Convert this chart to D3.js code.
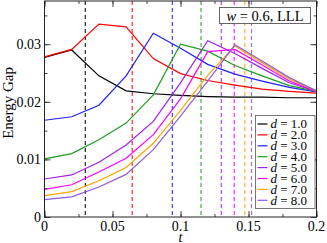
<!DOCTYPE html>
<html>
<head>
<meta charset="utf-8">
<script src="https://cdn.jsdelivr.net/npm/d3@7"></script>
<style>
  body { margin: 0; background: #fff; }
  svg text { font-family: "Liberation Serif", "DejaVu Serif", serif; }
</style>
</head>
<body>
<div id="container"></div>
<script>
// values
var tGrid = [0, 0.02, 0.04, 0.06, 0.08, 0.10, 0.12, 0.14, 0.16, 0.18, 0.20];
var dLabels = ["1.0", "2.0", "3.0", "4.0", "5.0", "6.0", "7.0", "8.0"];
var gapD1 = [0.0277, 0.0290, 0.0245, 0.0219, 0.0214, 0.0211, 0.0209, 0.0208, 0.0208, 0.0207, 0.0207];
var gapD2 = [0.0278, 0.0291, 0.0335, 0.0330, 0.0275, 0.0249, 0.0237, 0.0229, 0.0222, 0.0218, 0.0215];
var gapD3 = [0.0168, 0.0174, 0.0194, 0.0245, 0.0319, 0.0293, 0.0265, 0.0248, 0.0236, 0.0225, 0.0217];
var gapD4 = [0.0101, 0.0110, 0.0134, 0.0163, 0.0212, 0.0300, 0.0288, 0.0263, 0.0245, 0.0228, 0.0218];
var gapD5 = [0.0066, 0.0073, 0.0095, 0.0125, 0.0166, 0.0233, 0.0306, 0.0284, 0.0258, 0.0233, 0.0218];
var gapD6 = [0.0048, 0.0056, 0.0078, 0.0102, 0.0143, 0.0205, 0.0287, 0.0291, 0.0264, 0.0236, 0.0218];
var gapD7 = [0.0037, 0.0044, 0.0063, 0.0086, 0.0128, 0.0185, 0.0246, 0.0297, 0.0268, 0.0239, 0.0219];
var gapD8 = [0.0030, 0.0035, 0.0052, 0.0074, 0.0117, 0.0175, 0.0236, 0.0299, 0.0271, 0.0242, 0.0219];
// critical t for each d (dashed lines)
var tCrit = [0.0300, 0.0645, 0.0940, 0.1151, 0.1300, 0.1395, 0.1473, 0.1522];
var colors = ["#000000", "#ff0000", "#1f1fff", "#1e9e1e", "#a020f0", "#ff00ff", "#ffa500", "#8a5ce0"];

var series = [gapD1, gapD2, gapD3, gapD4, gapD5, gapD6, gapD7, gapD8];

var width = 327, height = 243;
var plotLeft = 44.5, plotRight = 316.5, plotTop = 1, plotBottom = 217;

var svg = d3.select("#container").append("svg")
  .attr("width", width)
  .attr("height", height);

var x = d3.scaleLinear().domain([0, 0.2]).range([plotLeft, plotRight]);
var y = d3.scaleLinear().domain([0, 0.0375]).range([plotBottom, plotTop]);

svg.append("clipPath").attr("id", "plotclip")
  .append("rect")
  .attr("x", plotLeft).attr("y", plotTop)
  .attr("width", plotRight - plotLeft).attr("height", plotBottom - plotTop);

var plot = svg.append("g").attr("clip-path", "url(#plotclip)");

// dashed vertical lines
plot.selectAll("line.crit")
  .data(tCrit)
  .enter()
  .append("line")
  .attr("class", "crit")
  .attr("x1", function(d) { return x(d); })
  .attr("x2", function(d) { return x(d); })
  .attr("y1", plotTop)
  .attr("y2", plotBottom)
  .attr("stroke", function(d, i) { return colors[i]; })
  .attr("stroke-width", 1.2)
  .attr("stroke-dasharray", "4,3")
  .attr("opacity", 0.85);

var line = d3.line()
  .x(function(d, i) { return x(tGrid[i]); })
  .y(function(d) { return y(d); });

plot.selectAll("path.gap")
  .data(series)
  .enter()
  .append("path")
  .attr("class", "gap")
  .attr("d", line)
  .attr("fill", "none")
  .attr("stroke", function(d, i) { return colors[i]; })
  .attr("stroke-width", 1.2);

// axes, ticks pointing inward on all four sides
var xMajor = [0, 0.05, 0.1, 0.15, 0.2];
var xMinor = d3.range(0, 0.2001, 0.025);
var yMajor = [0, 0.01, 0.02, 0.03];
var yMinor = d3.range(0, 0.0376, 0.005);

function xAxis(g, ticks, size, orient) {
  var ax = orient == "bottom" ? d3.axisBottom(x) : d3.axisTop(x);
  g.call(ax.tickValues(ticks).tickSizeInner(-size).tickSizeOuter(0).tickFormat(""));
}
function yAxis(g, ticks, size, orient) {
  var ax = orient == "left" ? d3.axisLeft(y) : d3.axisRight(y);
  g.call(ax.tickValues(ticks).tickSizeInner(-size).tickSizeOuter(0).tickFormat(""));
}

var axes = svg.append("g").attr("class", "axes");
axes.append("g").attr("transform", "translate(0," + plotBottom + ")").call(xAxis, xMinor, 3, "bottom");
axes.append("g").attr("transform", "translate(0," + plotBottom + ")").call(xAxis, xMajor, 6, "bottom");
axes.append("g").attr("transform", "translate(0," + plotTop + ")").call(xAxis, xMinor, 3, "top");
axes.append("g").attr("transform", "translate(0," + plotTop + ")").call(xAxis, xMajor, 6, "top");
axes.append("g").attr("transform", "translate(" + plotLeft + ",0)").call(yAxis, yMinor, 3, "left");
axes.append("g").attr("transform", "translate(" + plotLeft + ",0)").call(yAxis, yMajor, 6, "left");
axes.append("g").attr("transform", "translate(" + plotRight + ",0)").call(yAxis, yMinor, 3, "right");
axes.append("g").attr("transform", "translate(" + plotRight + ",0)").call(yAxis, yMajor, 6, "right");
axes.selectAll(".domain").remove();
axes.selectAll("line").attr("stroke", "#444").attr("stroke-width", 1);

svg.append("rect")
  .attr("x", plotLeft).attr("y", plotTop)
  .attr("width", plotRight - plotLeft).attr("height", plotBottom - plotTop)
  .attr("fill", "none")
  .attr("stroke", "#222")
  .attr("stroke-width", 1);

// tick labels
svg.selectAll("text.xlab")
  .data(xMajor)
  .enter()
  .append("text")
  .attr("x", function(d) { return x(d); })
  .attr("y", 230.5)
  .attr("text-anchor", "middle")
  .attr("font-size", 14)
  .text(function(d) { return d == 0 ? "0" : String(d); });

svg.selectAll("text.ylab")
  .data(yMajor)
  .enter()
  .append("text")
  .attr("x", 41)
  .attr("y", function(d) { return y(d) + 4.8; })
  .attr("text-anchor", "end")
  .attr("font-size", 14)
  .text(function(d) { return d == 0 ? "0" : d3.format(".2f")(d); });

svg.append("text")
  .attr("x", x(0.1))
  .attr("y", 241.5)
  .attr("text-anchor", "middle")
  .attr("font-size", 14)
  .attr("font-style", "italic")
  .text("t");

svg.append("text")
  .attr("transform", "translate(12.5," + y(0.0198) + ") rotate(-90)")
  .attr("text-anchor", "middle")
  .attr("font-size", 15)
  .text("Energy Gap");

// label box
var lab = svg.append("g");
lab.append("rect")
  .attr("x", 219.5).attr("y", 7.5)
  .attr("width", 91).attr("height", 16)
  .attr("fill", "#fff")
  .attr("stroke", "#666");
var labText = lab.append("text")
  .attr("x", 265).attr("y", 20.5)
  .attr("text-anchor", "middle")
  .attr("font-size", 14.5);
labText.append("tspan").attr("font-style", "italic").text("w");
labText.append("tspan").text(" = 0.6, LLL");

// legend
var legend = svg.append("g");
legend.append("rect")
  .attr("x", 255.5).attr("y", 115.5)
  .attr("width", 59.5).attr("height", 93)
  .attr("fill", "#fff")
  .attr("stroke", "#777");

var rows = legend.selectAll("g.row")
  .data(dLabels)
  .enter()
  .append("g")
  .attr("class", "row")
  .attr("transform", function(d, i) { return "translate(0," + (124 + i * 10.9) + ")"; });

rows.append("line")
  .attr("x1", 257.5).attr("x2", 267.5)
  .attr("y1", 0).attr("y2", 0)
  .attr("stroke", function(d, i) { return colors[i]; })
  .attr("stroke-width", 1.2);

var rowText = rows.append("text")
  .attr("x", 270.5)
  .attr("y", 4.2)
  .attr("font-size", 13);
rowText.append("tspan").attr("font-style", "italic").text("d");
rowText.append("tspan").text(function(d) { return " = " + d; });
</script>
</body>
</html>
